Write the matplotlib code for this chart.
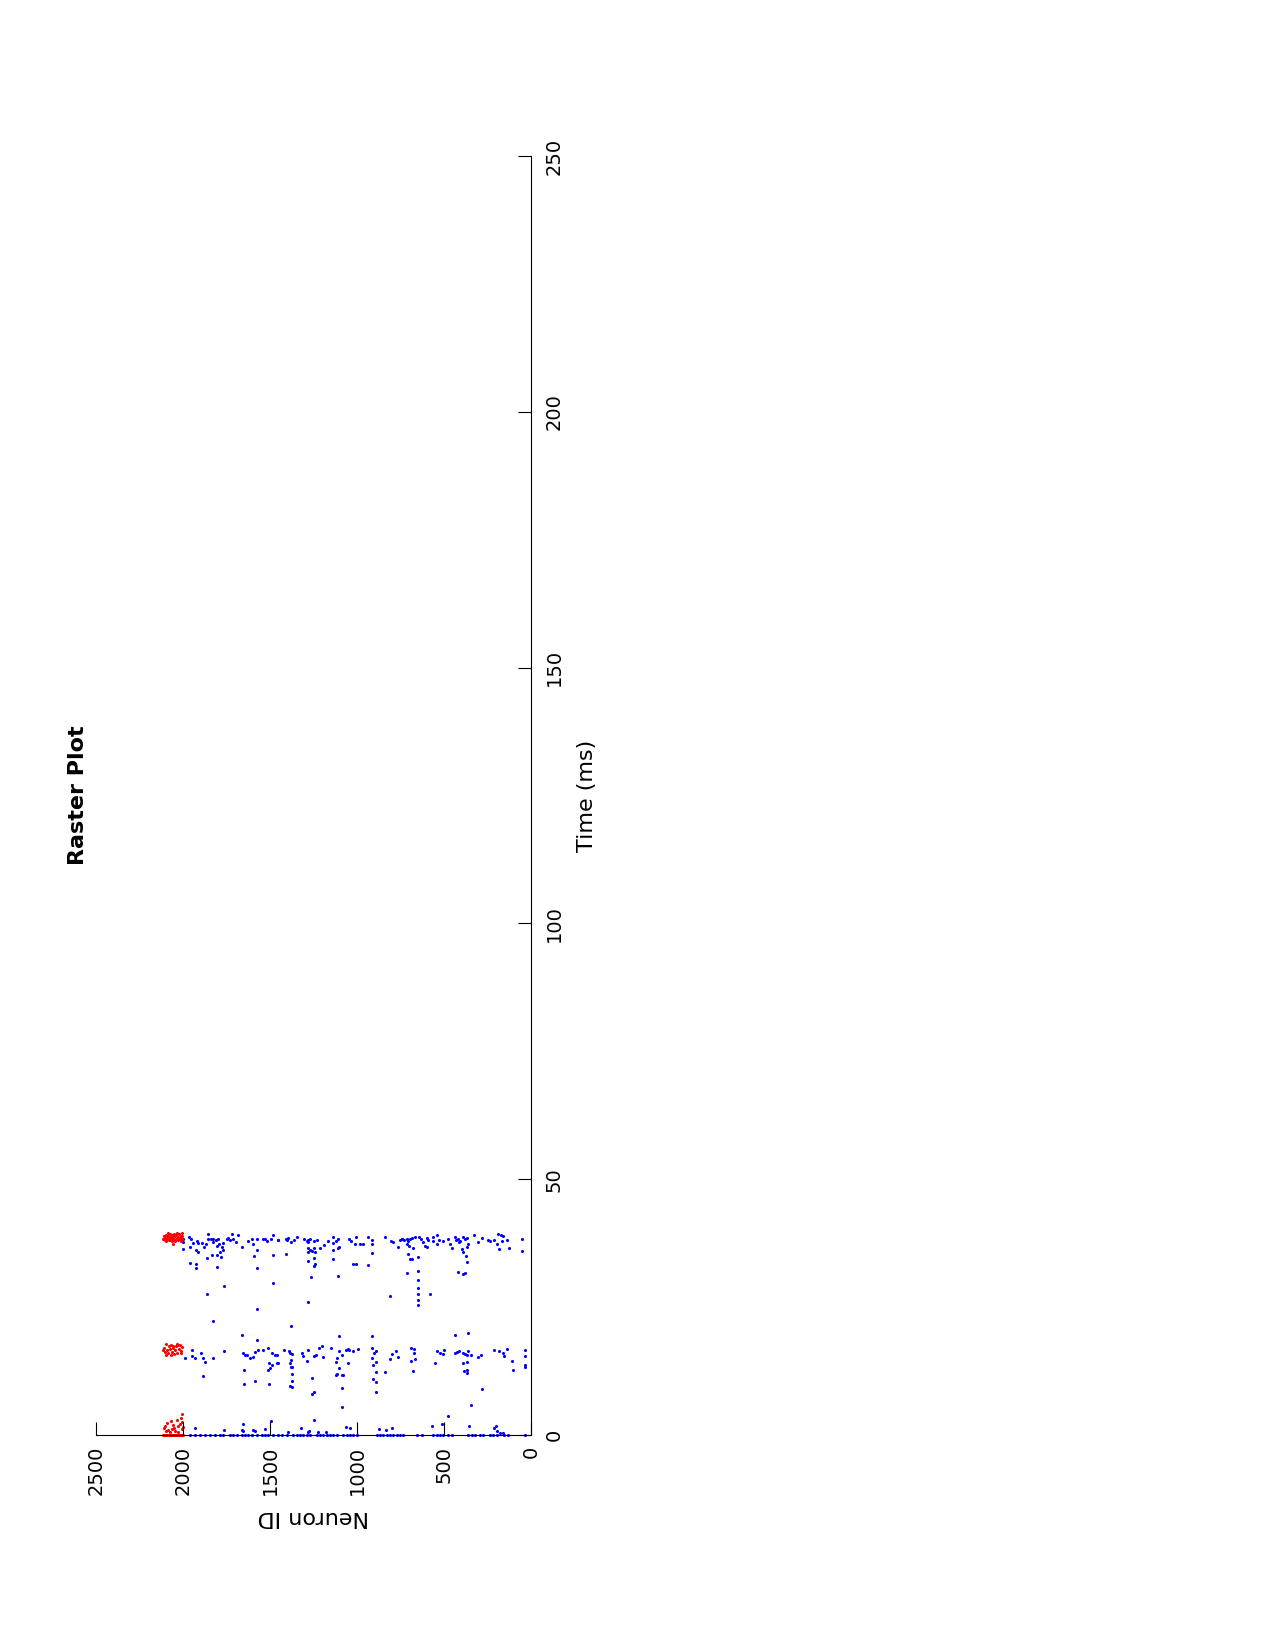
# Raster plot of spiking network (page rotated, time runs upward)
import matplotlib
matplotlib.use("Agg")
import matplotlib.pyplot as plt

# excitatory spikes (blue): neuron id, time (ms)
exc_neuron = [
    # burst around 38 ms
    1998, 1964, 1956, 1998, 1998, 1960, 1941, 1922, 1912, 1926, 1916, 1893, 1880, 1868,
    1855, 1855, 1839, 1830, 1826, 1811, 1797, 1807, 1791, 1778, 1768, 1772, 1788, 1749,
    1744, 1730, 1721, 1715, 1696, 1682, 1663, 1625, 1606, 1596, 1577, 1577, 1592, 1542,
    1529, 1516, 1496, 1485, 1452, 1481, 1960, 1926, 1928, 1860, 1836, 1807, 1784, 1807,
    1765, 1864, 1577, 1485, 1577,
    1452, 1408, 1398, 1404, 1379, 1360, 1346, 1302, 1289, 1283, 1279, 1270, 1245, 1231,
    1279, 1270, 1260, 1245, 1241, 1281, 1212, 1187, 1164, 1136, 1136, 1120, 1111, 1103,
    1111, 1136, 1136, 1046, 1034, 1007, 1011, 982, 963, 938, 915, 915, 839, 804, 791, 752,
    739, 766, 915, 1410, 1279, 1245, 1241, 1245, 1021, 1007, 938, 1264, 1107, 810, 1283,
    743, 730, 715, 705, 696, 686, 667, 711, 699, 680, 642, 634, 623, 600, 590, 609, 596,
    565, 561, 538, 527, 508, 538, 475, 466, 456, 437, 431, 418, 408, 389, 379, 370, 412,
    399, 389, 360, 370, 328, 303, 284, 245, 236, 213, 197, 188, 174, 163, 169, 136, 182,
    125, 54, 54, 705, 696, 686, 648, 374, 370, 711, 418, 393, 377, 651, 651, 651, 651,
    651, 651, 581,
    # burst around 16 ms
    1830, 1663, 1577, 1989, 1950, 1950, 1931, 1899, 1887, 1874, 1830, 1765, 1887, 1657,
    1644, 1634, 1615, 1596, 1587, 1567, 1542, 1510, 1491, 1472, 1462, 1504, 1491, 1500,
    1510, 1650, 1587, 1650, 1504,
    1379, 1461, 1456, 1417, 1391, 1385, 1371, 1379, 1385, 1379, 1371, 1375, 1375, 1385,
    1375, 1314, 1308, 1283, 1289, 1245, 1237, 1218, 1203, 1193, 1149, 1103, 1117, 1122,
    1103, 1088, 1063, 1053, 1046, 1021, 992, 1053, 1103, 1117, 1122, 1088, 1078, 1088,
    1088, 1260, 1256, 1245, 915, 915, 900, 889, 912, 908, 890, 890, 906, 889, 890, 839,
    810, 800, 777, 766,
    692, 673, 673, 669, 692, 680, 538, 523, 504, 500, 552, 437, 362, 437, 427, 412, 389,
    379, 360, 347, 366, 393, 370, 385, 366, 370, 303, 289, 213, 182, 163, 155, 136, 111,
    102, 36, 36, 36, 36, 284, 347,
    # onset burst
    1657, 1663, 1654, 1596, 1587, 1529, 1496, 1931, 1765, 1245, 1398, 1322, 1279, 1276,
    1222, 1180, 1065, 1040, 873, 831, 797, 475, 354, 513, 571, 213, 201, 193, 178, 163,
]
exc_time = [
    38.4, 38.7, 38.4, 37.7, 36.3, 36.7, 37.5, 37.9, 37.5, 36.2, 35.7, 37.5, 36.8, 37.4,
    39.2, 38.3, 38.3, 37.8, 38.3, 38.2, 38.3, 37.0, 37.3, 36.7, 37.5, 36.2, 35.7, 38.3,
    38.6, 38.1, 39.2, 38.3, 37.8, 39.0, 36.7, 37.9, 38.4, 37.4, 38.4, 36.2, 35.0, 38.3,
    38.3, 37.9, 38.4, 39.0, 38.2, 35.2, 33.7, 33.5, 32.7, 34.5, 35.2, 35.2, 34.7, 32.8,
    29.2, 27.6, 32.7, 29.8, 24.6,
    38.2, 38.4, 38.6, 38.1, 37.7, 38.2, 38.7, 38.3, 37.9, 38.1, 37.8, 38.3, 37.9, 38.2,
    36.6, 36.2, 36.0, 36.6, 35.8, 35.7, 36.5, 37.1, 37.9, 38.7, 37.6, 37.9, 38.3, 36.7,
    36.5, 36.2, 34.4, 38.3, 37.9, 38.7, 37.3, 37.4, 37.4, 38.7, 38.2, 37.4, 38.7, 37.9,
    37.7, 38.2, 38.3, 36.7, 35.6, 35.4, 34.0, 34.5, 33.5, 33.1, 33.4, 33.5, 33.2, 30.9,
    31.1, 27.2, 25.9,
    38.3, 38.2, 38.4, 37.9, 38.4, 38.6, 38.7, 37.4, 37.0, 36.6, 38.7, 38.3, 37.7, 38.6,
    38.2, 37.0, 36.7, 38.7, 38.0, 39.1, 38.2, 37.9, 37.4, 38.4, 37.3, 36.5, 38.7, 38.2,
    38.4, 37.9, 38.7, 38.4, 38.6, 37.7, 36.3, 35.8, 37.3, 36.7, 39.0, 37.7, 38.6, 38.2,
    38.0, 38.2, 37.4, 39.2, 39.0, 38.8, 37.9, 38.2, 36.3, 36.6, 38.3, 36.0, 35.3, 34.4,
    34.4, 34.7, 34.9, 33.9, 31.6, 31.9, 31.5, 31.7, 32.1, 30.2, 28.8, 27.5, 26.4, 25.4,
    27.6,
    22.2, 19.5, 18.6, 15.0, 16.7, 15.4, 15.0, 16.0, 15.0, 14.3, 15.0, 16.5, 11.6, 16.0,
    15.7, 15.7, 15.0, 15.2, 16.3, 16.7, 16.7, 17.1, 16.1, 15.6, 14.1, 14.1, 13.7, 13.0,
    12.7, 12.8, 10.5, 10.0, 10.0,
    21.4, 15.6, 14.1, 16.7, 16.5, 16.0, 15.8, 14.7, 14.0, 13.2, 13.2, 12.0, 10.6, 9.6,
    9.3, 16.1, 15.4, 16.6, 14.5, 15.4, 15.6, 17.1, 17.4, 15.3, 17.1, 19.3, 15.0, 14.3,
    16.5, 15.6, 16.6, 16.9, 16.7, 16.5, 16.9, 14.1, 13.0, 12.0, 11.7, 11.7, 11.7, 9.1,
    5.4, 11.2, 8.1, 8.5, 19.3, 17.0, 16.1, 16.4, 15.0, 13.7, 14.3, 12.4, 10.9, 10.4, 8.4,
    12.4, 14.8, 15.8, 16.5, 15.3,
    17.0, 16.9, 16.0, 14.9, 14.5, 12.5, 16.5, 16.1, 15.8, 16.6, 14.1, 19.6, 19.9, 16.0,
    16.2, 16.4, 16.0, 15.8, 16.5, 15.6, 15.7, 14.0, 14.3, 12.6, 12.8, 12.2, 15.3, 15.7,
    16.6, 16.5, 16.1, 15.4, 16.9, 14.5, 12.8, 16.6, 15.4, 13.7, 13.2, 8.9, 5.8,
    2.1, 1.0, 0.8, 1.0, 0.8, 1.1, 2.8, 1.4, 1.0, 3.0, 0.5, 1.4, 0.6, 0.8, 0.5, 0.5, 1.5,
    1.4, 1.2, 1.0, 1.4, 3.7, 1.7, 2.1, 1.7, 1.3, 1.7, 0.8, 0.4, 0.4,
]

# excitatory spikes right at stimulus onset
onset_neuron = [
    1960, 1931, 1902, 1874, 1845, 1816, 1787, 1768, 1730, 1711, 1692, 1663, 1644, 1624,
    1605, 1577, 1548, 1529, 1510, 1481, 1452, 1433, 1404, 1366, 1347, 1328, 1308, 1289,
    1270, 1232, 1213, 1194, 1174, 1155, 1136, 1117, 1078, 1059, 1040, 1021, 1002, 887,
    868, 849, 829, 810, 791, 772, 753, 734, 657, 628, 561, 542, 523, 504, 475, 456, 360,
    341, 322, 293, 274, 235, 216, 197, 158, 130, 34,
]
onset_time = [
    0, 0, 0, 0, 0, 0, 0, 0, 0, 0, 0, 0, 0, 0, 0, 0, 0, 0, 0, 0, 0, 0, 0,
    0, 0, 0, 0, 0, 0, 0, 0, 0, 0, 0, 0, 0, 0, 0, 0, 0, 0, 0, 0, 0, 0, 0,
    0, 0, 0, 0, 0, 0, 0, 0, 0, 0, 0, 0, 0, 0, 0, 0, 0, 0, 0, 0, 0, 0, 0,
]

# inhibitory spikes (red)
inh_neuron = [
    2004, 2010, 2016, 2021, 2027, 2031, 2036, 2040, 2045, 2049, 2053, 2058, 2062, 2066,
    2070, 2075, 2079, 2083, 2088, 2092, 2097, 2101, 2106, 2110, 2114, 2008, 2024, 2047,
    2068, 2086, 2099, 2034, 2057, 2013, 2077, 2056, 2003, 2091, 2042, 2019,
    2004, 2009, 2015, 2021, 2026, 2033, 2040, 2046, 2052, 2058, 2063, 2069, 2075, 2081,
    2087, 2093, 2099, 2104, 2110, 2116, 2036, 2067, 2012, 2096, 2055,
    2008, 2012, 2071, 2037, 2027, 2104, 2110, 2085, 2065, 2046, 2008, 2002, 2018, 2056,
    2093, 2030, 2075, 2100, 2003, 2050,
    2000, 2005, 2010, 2015, 2020, 2025, 2030, 2035, 2040, 2045, 2050, 2055, 2060, 2065,
    2070, 2075, 2080, 2085, 2090, 2095, 2100, 2105, 2110, 2115,
]
inh_time = [
    38.3, 38.9, 38.5, 39.2, 38.1, 38.7, 39.4, 38.4, 38.9, 38.2, 39.3, 38.6, 38.0, 39.0,
    38.4, 39.3, 38.7, 38.1, 38.9, 38.4, 39.1, 38.6, 38.2, 38.8, 38.4, 39.5, 38.6, 38.0,
    38.7, 39.4, 38.0, 38.3, 39.1, 37.9, 38.1, 37.3, 38.9, 38.8, 39.0, 38.4,
    17.2, 16.4, 17.6, 16.9, 17.5, 16.1, 17.3, 16.6, 15.8, 17.0, 16.3, 15.6, 16.9, 17.4,
    16.0, 16.6, 17.7, 16.2, 17.1, 16.7, 17.7, 17.6, 16.0, 15.7, 17.4,
    4.1, 3.4, 2.8, 2.9, 1.7, 1.7, 1.3, 1.0, 1.1, 0.8, 1.1, 1.5, 2.2, 2.0, 2.4, 0.6, 0.5,
    0.7, 2.6, 1.4,
    0, 0, 0, 0, 0, 0, 0, 0, 0, 0, 0, 0, 0, 0, 0, 0, 0, 0, 0, 0, 0, 0, 0, 0,
]

neuron_ticks = [0, 500, 1000, 1500, 2000, 2500]
time_ticks = [0, 50, 100, 150, 200, 250]

fig = plt.figure(figsize=(12.75, 16.5), dpi=100)
ax = fig.add_axes([96 / 1275, 1 - 1435 / 1650, 435 / 1275, 1279 / 1650])

ax.scatter(exc_neuron, exc_time, s=5, c='b', marker='o', linewidths=0, clip_on=False)
ax.scatter(onset_neuron, onset_time, s=5, c='b', marker='o', linewidths=0, clip_on=False)
ax.scatter(inh_neuron, inh_time, s=5, c='r', marker='o', linewidths=0, clip_on=False)

ax.set_xlim(2500, 0)
ax.set_ylim(0, 250)
ax.set_xticks(neuron_ticks)
ax.set_yticks(time_ticks)

ax.spines['top'].set_visible(False)
ax.spines['left'].set_visible(False)
ax.yaxis.tick_right()
ax.yaxis.set_label_position('right')
ax.tick_params(axis='both', direction='in', length=9.5, width=0.8, labelsize=14)
ax.tick_params(axis='x', pad=8, labelrotation=90)
ax.tick_params(axis='y', pad=10, labelrotation=90)
for lab in ax.get_yticklabels():
    lab.set_verticalalignment('center')

ax.set_xlabel('Neuron ID', fontsize=16, rotation=180)
ax.xaxis.set_label_coords(0.5, -0.056)
ax.set_ylabel('Time (ms)', fontsize=16, rotation=90)
ax.yaxis.set_label_coords(1.105, 0.5)
ax.text(-0.042, 0.5, 'Raster Plot', transform=ax.transAxes, rotation=90,
        fontsize=16, fontweight='bold', ha='center', va='center')

fig.savefig('out.png', dpi=100)
